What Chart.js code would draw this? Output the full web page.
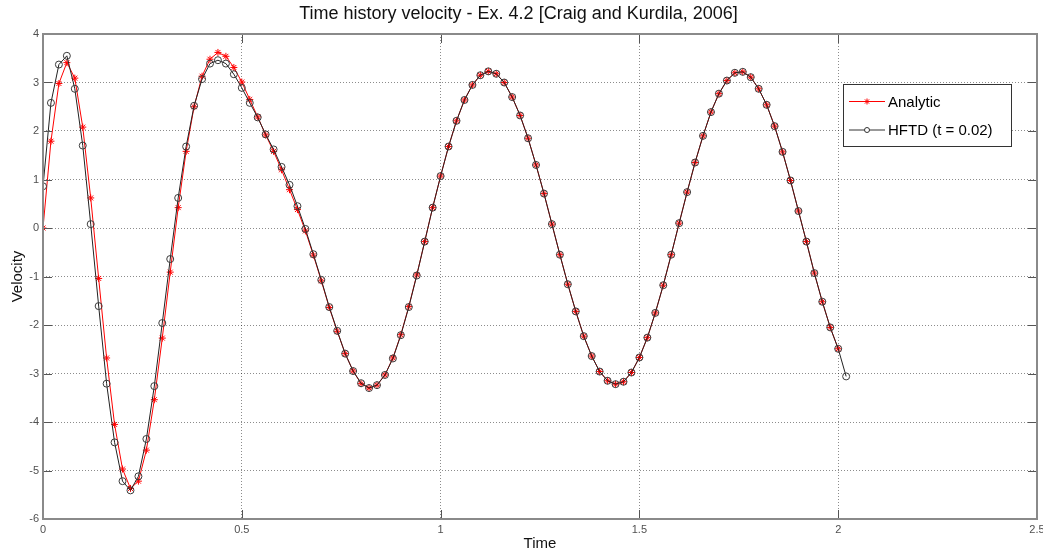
<!DOCTYPE html>
<html>
<head>
<meta charset="utf-8">
<title>Time history velocity</title>
<script src="https://cdn.jsdelivr.net/npm/chart.js@4.4.0/dist/chart.umd.min.js"></script>
<style>
  html, body { margin: 0; padding: 0; background: #fff; }
  #velocityChart { display: block; }
</style>
</head>
<body>
<canvas id="velocityChart" width="1043" height="554"></canvas>
<script>
// sample times, dt = 0.02
var time = [
  0.00, 0.02, 0.04, 0.06, 0.08, 0.10, 0.12, 0.14, 0.16, 0.18,
  0.20, 0.22, 0.24, 0.26, 0.28, 0.30, 0.32, 0.34, 0.36, 0.38,
  0.40, 0.42, 0.44, 0.46, 0.48, 0.50, 0.52, 0.54, 0.56, 0.58,
  0.60, 0.62, 0.64, 0.66, 0.68, 0.70, 0.72, 0.74, 0.76, 0.78,
  0.80, 0.82, 0.84, 0.86, 0.88, 0.90, 0.92, 0.94, 0.96, 0.98,
  1.00, 1.02, 1.04, 1.06, 1.08, 1.10, 1.12, 1.14, 1.16, 1.18,
  1.20, 1.22, 1.24, 1.26, 1.28, 1.30, 1.32, 1.34, 1.36, 1.38,
  1.40, 1.42, 1.44, 1.46, 1.48, 1.50, 1.52, 1.54, 1.56, 1.58,
  1.60, 1.62, 1.64, 1.66, 1.68, 1.70, 1.72, 1.74, 1.76, 1.78,
  1.80, 1.82, 1.84, 1.86, 1.88, 1.90, 1.92, 1.94, 1.96, 1.98,
  2.00, 2.02
];

// exact solution (ends at t = 2.00)
var analytic = [
  0.00, 1.79, 2.98, 3.41, 3.09, 2.08, 0.62, -1.04, -2.68, -4.05,
  -4.97, -5.37, -5.22, -4.58, -3.54, -2.27, -0.91, 0.42, 1.58, 2.50,
  3.13, 3.48, 3.62, 3.54, 3.31, 3.01, 2.65, 2.29, 1.92, 1.58,
  1.20, 0.79, 0.38, -0.06, -0.56, -1.09, -1.64, -2.13, -2.59, -2.95,
  -3.21, -3.30, -3.24, -3.03, -2.68, -2.20, -1.62, -0.97, -0.28, 0.42,
  1.07, 1.68, 2.21, 2.64, 2.95, 3.15, 3.23, 3.18, 3.00, 2.70,
  2.32, 1.85, 1.30, 0.71, 0.08, -0.55, -1.16, -1.72, -2.23, -2.64,
  -2.96, -3.15, -3.22, -3.17, -2.98, -2.67, -2.26, -1.75, -1.18, -0.55,
  0.10, 0.74, 1.35, 1.90, 2.39, 2.77, 3.04, 3.20, 3.22, 3.11,
  2.87, 2.54, 2.10, 1.57, 0.98, 0.35, -0.28, -0.93, -1.52, -2.05,
  -2.49
];

// HFTD result, t = 0.02 (ends at t = 2.02)
var hftd = [
  0.86, 2.58, 3.37, 3.55, 2.87, 1.70, 0.08, -1.61, -3.21, -4.42,
  -5.22, -5.41, -5.12, -4.35, -3.26, -1.96, -0.64, 0.62, 1.68, 2.52,
  3.07, 3.39, 3.46, 3.39, 3.17, 2.89, 2.58, 2.28, 1.93, 1.62,
  1.26, 0.89, 0.45, -0.02, -0.54, -1.07, -1.63, -2.12, -2.59, -2.95,
  -3.20, -3.30, -3.24, -3.03, -2.69, -2.21, -1.63, -0.98, -0.28, 0.42,
  1.07, 1.68, 2.21, 2.64, 2.95, 3.15, 3.23, 3.18, 3.00, 2.70,
  2.32, 1.85, 1.30, 0.71, 0.08, -0.55, -1.16, -1.72, -2.23, -2.64,
  -2.96, -3.15, -3.22, -3.17, -2.98, -2.67, -2.26, -1.75, -1.18, -0.55,
  0.10, 0.74, 1.35, 1.90, 2.39, 2.77, 3.04, 3.20, 3.22, 3.11,
  2.87, 2.54, 2.10, 1.57, 0.98, 0.35, -0.28, -0.93, -1.52, -2.05,
  -2.49, -3.06
];

var xTicks = [0, 0.5, 1, 1.5, 2, 2.5];
var yTicks = [-6, -5, -4, -3, -2, -1, 0, 1, 2, 3, 4];

var FONT = "'Liberation Sans', Arial, Helvetica, sans-serif";

function toPoints(values) {
    var pts = [];
    for (var i = 0; i < values.length; i++) {
        pts.push({ x: time[i], y: values[i] });
    }
    return pts;
}

// matlab style box with inward tick marks
var axesBox = {
    id: 'axesBox',
    afterDraw: function(chart) {
        var ctx = chart.ctx;
        var a = chart.chartArea;
        var xs = chart.scales.x;
        var ys = chart.scales.y;
        ctx.save();
        ctx.strokeStyle = '#555';
        ctx.lineWidth = 1;
        ctx.beginPath();
        xTicks.forEach(function(v) {
            var px = Math.round(xs.getPixelForValue(v)) + 0.5;
            ctx.moveTo(px, a.bottom); ctx.lineTo(px, a.bottom - 9);
            ctx.moveTo(px, a.top); ctx.lineTo(px, a.top + 9);
        });
        yTicks.forEach(function(v) {
            var py = Math.round(ys.getPixelForValue(v)) + 0.5;
            ctx.moveTo(a.left, py); ctx.lineTo(a.left + 9, py);
            ctx.moveTo(a.right, py); ctx.lineTo(a.right - 9, py);
        });
        ctx.stroke();
        ctx.strokeStyle = '#8a8a8a';
        ctx.lineWidth = 2;
        ctx.strokeRect(a.left, a.top, a.right - a.left, a.bottom - a.top);
        ctx.restore();
    }
};

function drawStar(ctx, x, y, r) {
    var d = r * Math.SQRT1_2;
    ctx.beginPath();
    ctx.moveTo(x - r, y); ctx.lineTo(x + r, y);
    ctx.moveTo(x, y - r); ctx.lineTo(x, y + r);
    ctx.moveTo(x - d, y - d); ctx.lineTo(x + d, y + d);
    ctx.moveTo(x - d, y + d); ctx.lineTo(x + d, y - d);
    ctx.stroke();
}

// legend box in the upper right of the axes
var boxLegend = {
    id: 'boxLegend',
    afterDraw: function(chart) {
        var ctx = chart.ctx;
        var a = chart.chartArea;
        var w = 168, h = 62;
        var x0 = a.right - 26 - w;
        var y0 = a.top + 50;
        ctx.save();
        ctx.fillStyle = '#fff';
        ctx.fillRect(x0, y0, w, h);
        ctx.strokeStyle = '#333';
        ctx.lineWidth = 1;
        ctx.strokeRect(x0 + 0.5, y0 + 0.5, w, h);

        var rows = [
            { label: chart.data.datasets[0].label, color: '#ff0000', y: y0 + 17.5, marker: 'star' },
            { label: chart.data.datasets[1].label, color: '#333333', y: y0 + 46, marker: 'circle' }
        ];
        ctx.font = '15px ' + FONT;
        ctx.textBaseline = 'middle';
        ctx.textAlign = 'left';
        rows.forEach(function(r) {
            ctx.strokeStyle = r.color;
            ctx.lineWidth = 1;
            ctx.beginPath();
            ctx.moveTo(x0 + 6, r.y); ctx.lineTo(x0 + 42, r.y);
            ctx.stroke();
            if (r.marker === 'star') {
                drawStar(ctx, x0 + 24, r.y, 3);
            } else {
                ctx.beginPath();
                ctx.arc(x0 + 24, r.y, 2.5, 0, Math.PI * 2);
                ctx.fillStyle = '#fff';
                ctx.fill();
                ctx.stroke();
            }
            ctx.fillStyle = '#000';
            ctx.fillText(r.label, x0 + 45, r.y + 1);
        });
        ctx.restore();
    }
};

var chart = new Chart(document.getElementById('velocityChart'), {
    type: 'line',
    data: {
        datasets: [{
            label: 'Analytic',
            data: toPoints(analytic),
            borderColor: '#ff0000',
            borderWidth: 1,
            pointStyle: 'star',
            pointRadius: 3.5,
            pointBorderColor: '#ff0000',
            pointBorderWidth: 1,
            pointBackgroundColor: '#ff0000',
            order: 1
        }, {
            label: 'HFTD (t = 0.02)',
            data: toPoints(hftd),
            borderColor: '#222222',
            borderWidth: 1,
            pointStyle: 'circle',
            pointRadius: 3.5,
            pointBorderColor: '#3a3a3a',
            pointBorderWidth: 1,
            pointBackgroundColor: 'rgba(0,0,0,0)',
            order: 0
        }]
    },
    options: {
        responsive: false,
        animation: false,
        events: [],
        layout: {
            autoPadding: false,
            padding: { left: 0, right: 6, top: 0, bottom: 0 }
        },
        elements: { line: { tension: 0, fill: false } },
        plugins: {
            legend: { display: false },
            tooltip: { enabled: false },
            title: {
                display: true,
                text: 'Time history velocity - Ex. 4.2 [Craig and Kurdila, 2006]',
                color: '#111',
                font: { family: FONT, size: 18, weight: 'normal', lineHeight: 1.2 },
                padding: { top: 3, bottom: 9.4 }
            }
        },
        scales: {
            x: {
                type: 'linear',
                min: 0,
                max: 2.5,
                afterBuildTicks: function(scale) {
                    scale.ticks = xTicks.map(function(v) { return { value: v }; });
                },
                afterFit: function(scale) {
                    scale.height = 35;
                    // let the last label run off the edge instead of shrinking the plot
                    scale.paddingLeft = 0;
                    scale.paddingRight = 0;
                },
                ticks: {
                    color: '#505050',
                    font: { family: FONT, size: 11 },
                    padding: 4,
                    maxRotation: 0,
                    autoSkip: false,
                    callback: function(v) { return String(v); }
                },
                grid: { color: 'rgba(0,0,0,0.45)', lineWidth: 1, drawTicks: false },
                border: { display: false, dash: [1, 2] },
                title: {
                    display: true,
                    text: 'Time',
                    color: '#111',
                    font: { family: FONT, size: 15, lineHeight: 1.2 },
                    padding: { top: 0, bottom: 1 }
                }
            },
            y: {
                type: 'linear',
                min: -6,
                max: 4,
                afterBuildTicks: function(scale) {
                    scale.ticks = yTicks.map(function(v) { return { value: v }; });
                },
                afterFit: function(scale) {
                    scale.width = 43;
                    scale.paddingTop = 0;
                    scale.paddingBottom = 0;
                },
                ticks: {
                    color: '#505050',
                    font: { family: FONT, size: 11 },
                    padding: 4,
                    autoSkip: false,
                    callback: function(v) { return String(v); }
                },
                grid: { color: 'rgba(0,0,0,0.45)', lineWidth: 1, drawTicks: false },
                border: { display: false, dash: [1, 2] },
                title: {
                    display: true,
                    text: 'Velocity',
                    color: '#111',
                    font: { family: FONT, size: 15, lineHeight: 1.2 },
                    padding: { top: 9, bottom: 0 }
                }
            }
        }
    },
    plugins: [axesBox, boxLegend]
});
</script>
</body>
</html>
